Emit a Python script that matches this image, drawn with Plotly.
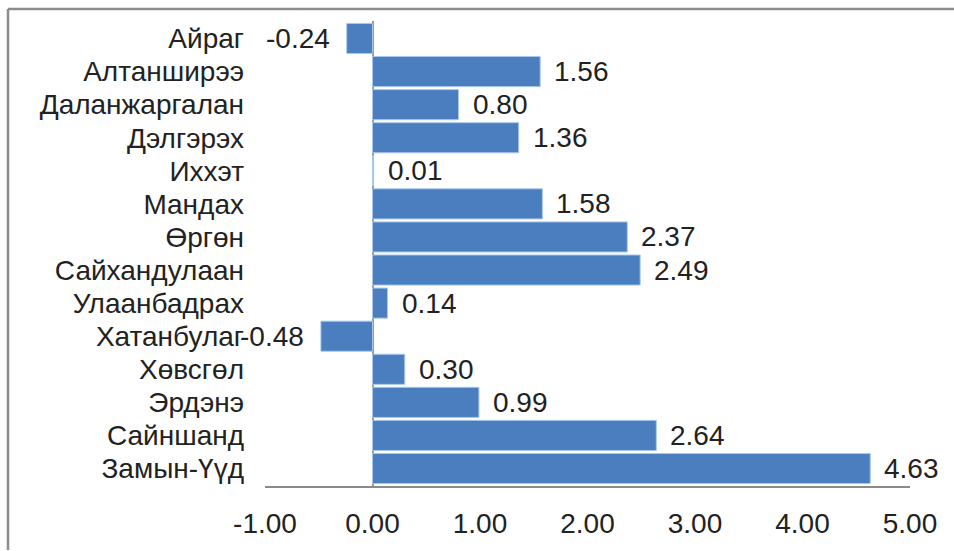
import plotly.graph_objects as go

categories = ["Айраг", "Алтанширээ", "Даланжаргалан", "Дэлгэрэх", "Иххэт", "Мандах",
              "Өргөн", "Сайхандулаан", "Улаанбадрах", "Хатанбулаг", "Хөвсгөл",
              "Эрдэнэ", "Сайншанд", "Замын-Үүд"]
values = [-0.24, 1.56, 0.80, 1.36, 0.01, 1.58, 2.37, 2.49, 0.14, -0.48, 0.30, 0.99, 2.64, 4.63]
tick_vals = [-1, 0, 1, 2, 3, 4, 5]
tick_text = ["-1.00", "0.00", "1.00", "2.00", "3.00", "4.00", "5.00"]

W, H = 954, 551
ML, MR, MT, MB = 265, 44, 21, 65
FONT = "Liberation Sans, Arial, sans-serif"
TXT = "#222222"

fig = go.Figure(go.Bar(
    x=values, y=categories, orientation="h",
    marker=dict(color="#4A7EBF", line=dict(color="#A9C8EC", width=1)),
    hoverinfo="x+y",
))

for c, v in zip(categories, values):
    fig.add_annotation(
        x=v, y=c, text=f"{v:.2f}", showarrow=False,
        xanchor="left" if v >= 0 else "right",
        xshift=12 if v >= 0 else -15,
        font=dict(family=FONT, size=28, color=TXT),
    )

pw = W - ML - MR
ph = H - MT - MB
bx = (8 - ML) / pw
by = (H - MB - 9) / ph
fig.add_shape(type="line", xref="paper", yref="paper", x0=bx, x1=(W - ML) / pw + 0.01,
              y0=by, y1=by, line=dict(color="#8c8c8c", width=2.5))
fig.add_shape(type="line", xref="paper", yref="paper", x0=bx, x1=bx,
              y0=by, y1=-(MB - 1) / ph, line=dict(color="#8c8c8c", width=2.5))

fig.update_layout(
    width=W, height=H,
    margin=dict(l=ML, r=MR, t=MT, b=MB, pad=0),
    paper_bgcolor="white", plot_bgcolor="white",
    bargap=0.09, showlegend=False,
    font=dict(family=FONT, size=28, color=TXT),
    xaxis=dict(range=[-1, 5], tickmode="array", tickvals=tick_vals, ticktext=tick_text,
               showgrid=False, zeroline=True, zerolinecolor="#9a9a9a", zerolinewidth=1.5,
               showline=True, linecolor="#8a8a8a", linewidth=1.5,
               ticks="", ticklabelstandoff=12, tickfont=dict(size=28)),
    yaxis=dict(autorange="reversed", tickmode="array", tickvals=categories, ticktext=categories,
               showgrid=False, showline=False, zeroline=False,
               ticks="", ticklabelstandoff=20, tickfont=dict(size=28)),
)

fig.write_html("out.html", config={"displayModeBar": False})

with open("out.html", encoding="utf-8") as f:
    html = f.read()
html = html.replace("<head>", "<head><style>html,body{margin:0;padding:0;overflow:hidden;}</style>", 1)
with open("out.html", "w", encoding="utf-8") as f:
    f.write(html)
